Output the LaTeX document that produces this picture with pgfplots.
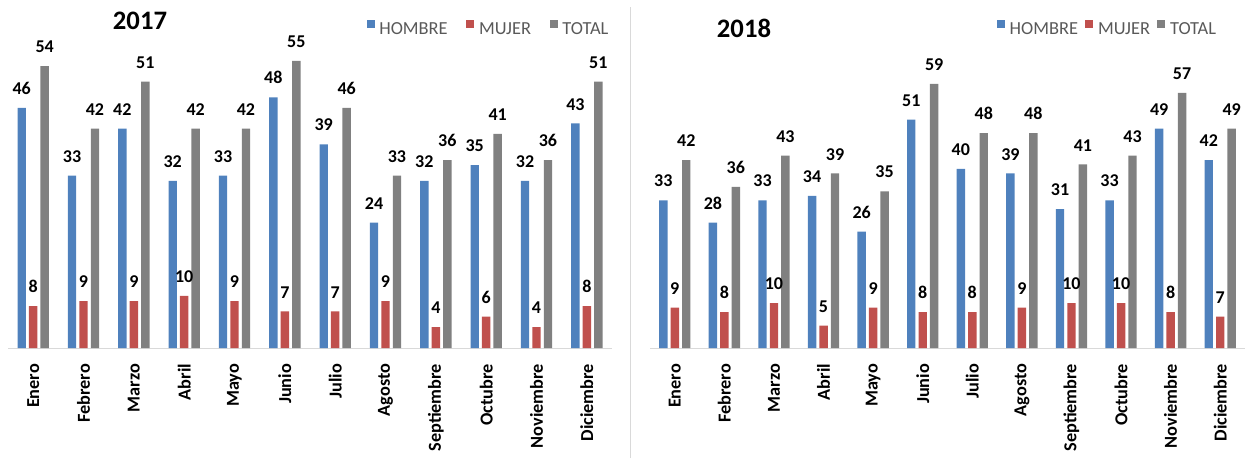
\documentclass[border=0pt]{standalone}
\usepackage{pgfplots}
\pgfplotsset{compat=1.18}
\usepackage{fontspec}
\setmainfont{Carlito}

\definecolor{cblue}{HTML}{4F81BD}
\definecolor{cred}{HTML}{C0504D}
\definecolor{cgray}{HTML}{808080}
\definecolor{axgray}{HTML}{D9D9D9}
\definecolor{legtext}{HTML}{595959}

\pgfplotsset{
  panel/.style={
    scale only axis,
    anchor=south west,
    height=235pt,
    ymin=0,
    xmin=-0.5, xmax=11.5,
    ybar=2.3pt, bar width=6.3pt,
    axis x line*=bottom,
    axis y line=none,
    axis line style={draw=axgray, line width=0.75pt, -},
    xtick={0,...,11},
    xticklabels={Enero,Febrero,Marzo,Abril,Mayo,Junio,Julio,Agosto,Septiembre,Octubre,Noviembre,Diciembre},
    xtick style={draw=none},
    xticklabel style={rotate=90, anchor=east, inner xsep=7.5pt, inner ysep=0pt,
      font=\fontsize{13.7}{16}\selectfont\bfseries, text=black},
    clip=false,
    /pgf/number format/assume math mode=true,
    nodes near coords,
    every node near coord/.append style={font=\fontsize{13.5}{15}\selectfont\bfseries,
      text=black, anchor=south, inner sep=0pt, yshift=9.75pt},
    legend columns=3,
    legend image code/.code={\fill[##1,draw=none] (0pt,1.2pt) rectangle (6pt,7.2pt);},
    legend style={draw=none, fill=none, inner sep=0pt, outer sep=0pt,
      font=\fontsize{13.8}{15}\selectfont, text=legtext, anchor=west,
      nodes={inner xsep=3.5pt, inner ysep=1pt}},
  },
}

\pgfplotstableread{
x h m t
0 46 8 54
1 33 9 42
2 42 9 51
3 32 10 42
4 33 9 42
5 48 7 55
6 39 7 46
7 24 9 33
8 32 4 36
9 35 6 41
10 32 4 36
11 43 8 51
}\dataA

\pgfplotstableread{
x h m t
0 33 9 42
1 28 8 36
2 33 10 43
3 34 5 39
4 26 9 35
5 51 8 59
6 40 8 48
7 39 9 48
8 31 10 41
9 33 10 43
10 49 8 57
11 42 7 49
}\dataB

\begin{document}
\begin{tikzpicture}
\useasboundingbox (0,0) rectangle (933.75pt,343.5pt);
\draw[axgray, line width=0.75pt] (472.9pt,0pt) -- (472.9pt,338pt);

\begin{axis}[panel, at={(6pt,82.5pt)}, width=453pt, ymax=60,
  legend style={at={(0.5938,1.018)},
    /tikz/every even column/.append style={column sep=10.5pt}}]
\addplot[fill=cblue, draw=none] table[x=x,y=h] {\dataA};
\addplot[fill=cred, draw=none] table[x=x,y=m] {\dataA};
\addplot[fill=cgray, draw=none] table[x=x,y=t] {\dataA};
\legend{HOMBRE,MUJER,TOTAL}
\end{axis}
\node[font=\fontsize{20}{24}\selectfont\bfseries] at (105pt,327.75pt) {2017};

\begin{axis}[panel, at={(487.5pt,82.5pt)}, width=446.25pt, ymax=70,
  legend style={at={(0.5832,1.0195)},
    /tikz/every even column/.append style={column sep=2pt}}]
\addplot[fill=cblue, draw=none] table[x=x,y=h] {\dataB};
\addplot[fill=cred, draw=none] table[x=x,y=m] {\dataB};
\addplot[fill=cgray, draw=none] table[x=x,y=t] {\dataB};
\legend{HOMBRE,MUJER,TOTAL}
\end{axis}
\node[font=\fontsize{20}{24}\selectfont\bfseries] at (558pt,322.5pt) {2018};
\end{tikzpicture}
\end{document}
